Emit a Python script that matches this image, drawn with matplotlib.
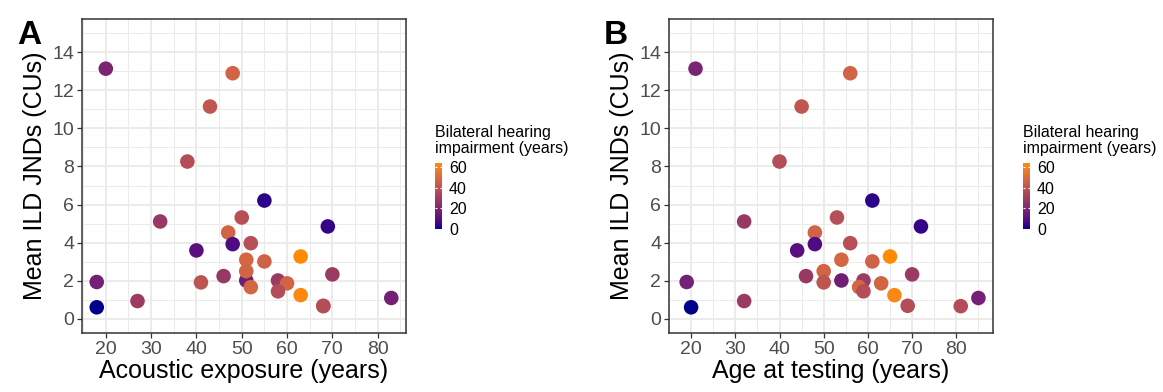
import numpy as np
import matplotlib
matplotlib.use('Agg')
import matplotlib.pyplot as plt
from matplotlib.colors import ListedColormap, Normalize
import matplotlib.cm as cm

plt.rcParams['font.family'] = ['Liberation Sans', 'DejaVu Sans']

# one entry per participant
exposure = [51, 20, 48, 43, 38, 55, 32, 69, 50, 47, 52, 48, 40, 51, 55, 63, 51,
            46, 41, 58, 60, 52, 58, 63, 68, 68, 70, 83, 18, 18, 27]
age = [54, 21, 56, 45, 40, 61, 32, 72, 53, 48, 56, 48, 44, 54, 61, 65, 50,
       46, 50, 59, 63, 58, 59, 66, 69, 81, 70, 85, 19, 20, 32]
jnd = [2.01, 13.14, 12.9, 11.15, 8.26, 6.21, 5.11, 4.85, 5.32, 4.53, 3.97, 3.92,
       3.59, 3.1, 3.01, 3.27, 2.5, 2.24, 1.91, 2.01, 1.86, 1.66, 1.44, 1.24,
       0.68, 0.66, 2.33, 1.09, 1.93, 0.6, 0.93]
impairment = [16, 19, 47, 41, 37, 3, 28, 4, 38, 47, 38, 8, 10, 48, 46, 64, 47,
              28, 40, 29, 47, 48, 37, 62, 37, 37, 29, 17, 17, 0, 29]

x_ticks = [20, 30, 40, 50, 60, 70, 80]
y_ticks = [0, 2, 4, 6, 8, 10, 12, 14]
cbar_ticks = [0, 20, 40, 60]


def srgb_to_lab(rgb):
    c = np.asarray(rgb, float) / 255
    lin = np.where(c <= 0.04045, c / 12.92, ((c + 0.055) / 1.055) ** 2.4)
    M = np.array([[0.4124, 0.3576, 0.1805], [0.2126, 0.7152, 0.0722], [0.0193, 0.1192, 0.9505]])
    xyz = M @ lin / np.array([0.95047, 1.0, 1.08883])
    f = np.where(xyz > 0.008856, np.cbrt(xyz), 7.787 * xyz + 16 / 116)
    return np.array([116 * f[1] - 16, 500 * (f[0] - f[1]), 200 * (f[1] - f[2])])


def lab_to_srgb(lab):
    L, a, b = lab
    fy = (L + 16) / 116
    f = np.array([fy + a / 500, fy, fy - b / 200])
    xyz = np.where(f ** 3 > 0.008856, f ** 3, (f - 16 / 116) / 7.787) * np.array([0.95047, 1.0, 1.08883])
    Minv = np.linalg.inv(np.array([[0.4124, 0.3576, 0.1805], [0.2126, 0.7152, 0.0722], [0.0193, 0.1192, 0.9505]]))
    lin = Minv @ xyz
    c = np.where(lin <= 0.0031308, 12.92 * lin, 1.055 * np.clip(lin, 0, None) ** (1 / 2.4) - 0.055)
    return np.clip(c, 0, 1)


# ggplot style gradient darkblue -> darkorange in Lab space
lo, hi = srgb_to_lab([0, 0, 139]), srgb_to_lab([255, 140, 0])
cmap = ListedColormap([lab_to_srgb(lo + t * (hi - lo)) for t in np.linspace(0, 1, 256)])
norm = Normalize(vmin=min(impairment), vmax=max(impairment))

fig = plt.figure(figsize=(11.63, 3.92), dpi=100)

panels = [
    (exposure, "Acoustic exposure (years)", "A", 82, 435),
    (age, "Age at testing (years)", "B", 669, 1023),
]

for xs, xlabel, letter, left_px, cbar_px in panels:
    ax = fig.add_axes([left_px / 1163, 59 / 392, 324 / 1163, 314 / 392])
    ax.set_axisbelow(True)
    ax.scatter(xs, jnd, c=impairment, cmap=cmap, norm=norm, s=110, linewidths=0, zorder=3)

    span = max(xs) - min(xs)
    ax.set_xlim(min(xs) - 0.05 * span, max(xs) + 0.05 * span)
    ax.set_ylim(-0.75, 15.75)
    ax.set_xticks(x_ticks)
    ax.set_yticks(y_ticks)
    ax.set_xticks([v for v in range(15, 90, 10)], minor=True)
    ax.set_yticks([v for v in range(1, 16, 2)], minor=True)
    ax.grid(which='major', color='#EBEBEB', linewidth=1.4)
    ax.grid(which='minor', color='#EBEBEB', linewidth=0.7)
    ax.tick_params(which='major', length=3.5, width=0.9, color='#333333',
                   labelsize=14, labelcolor='#4D4D4D', pad=2)
    ax.tick_params(which='minor', length=0)
    for sp in ax.spines.values():
        sp.set_color('#333333')
        sp.set_linewidth(1.1)
    ax.set_xlabel(xlabel, fontsize=18, labelpad=1)
    ax.set_ylabel("Mean ILD JNDs (CUs)", fontsize=18, labelpad=4)

    fig.text((left_px - 65) / 1163, 1 - 44 / 392, letter, fontsize=24,
             fontweight='bold', ha='left', va='baseline')

    # colourbar legend
    cax = fig.add_axes([cbar_px / 1163, (392 - 229) / 392, 7 / 1163, 66 / 392])
    cb = fig.colorbar(cm.ScalarMappable(norm=norm, cmap=cmap), cax=cax)
    cb.outline.set_visible(False)
    cb.set_ticks(cbar_ticks)
    cax.tick_params(length=1.6, width=0.8, color='white', direction='in',
                    left=True, right=True, labelsize=11.5, pad=5)
    fig.text(cbar_px / 1163, 1 - 125 / 392, "Bilateral hearing\nimpairment (years)",
             fontsize=11.5, ha='left', va='top', linespacing=1.05)

fig.savefig("out.png", dpi=100)
